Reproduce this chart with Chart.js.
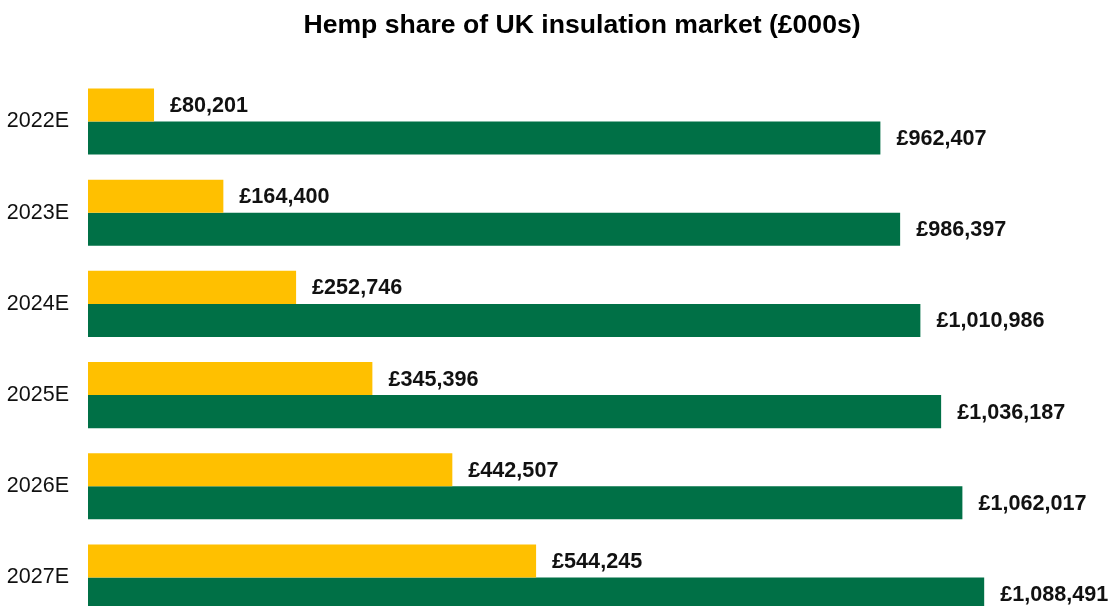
<!DOCTYPE html>
<html>
<head>
<meta charset="utf-8">
<script src="https://cdn.jsdelivr.net/npm/chart.js@4/dist/chart.umd.min.js"></script>
<style>
  html, body { margin: 0; padding: 0; background: #fff; overflow: hidden; }
  canvas { display: block; }
</style>
</head>
<body>
<canvas id="c" width="1112" height="655" style="width:1112px;height:655px;"></canvas>
<script>
const categories = ['2022E', '2023E', '2024E', '2025E', '2026E', '2027E'];
const hempValues = [80201, 164400, 252746, 345396, 442507, 544245];
const marketValues = [962407, 986397, 1010986, 1036187, 1062017, 1088491];
const titleText = 'Hemp share of UK insulation market (£000s)';

const FONT = '"Liberation Sans", Arial, Helvetica, sans-serif';

const valueLabels = {
  id: 'valueLabels',
  afterDatasetsDraw(chart) {
    const ctx = chart.ctx;
    ctx.save();
    ctx.font = 'bold 21.6px ' + FONT;
    ctx.fillStyle = '#111';
    ctx.textAlign = 'left';
    ctx.textBaseline = 'middle';
    chart.data.datasets.forEach((ds, di) => {
      const meta = chart.getDatasetMeta(di);
      meta.data.forEach((bar, i) => {
        const v = ds.data[i];
        ctx.fillText('£' + v.toLocaleString('en-GB'), bar.x + 16, bar.y + 1);
      });
    });
    ctx.restore();
  }
};

new Chart(document.getElementById('c'), {
  type: 'bar',
  data: {
    labels: categories,
    datasets: [
      { label: 'Hemp', data: hempValues, backgroundColor: '#FFC000', borderWidth: 0,
        categoryPercentage: 0.725, barPercentage: 1.0 },
      { label: 'Market', data: marketValues, backgroundColor: '#007046', borderWidth: 0,
        categoryPercentage: 0.725, barPercentage: 1.0 }
    ]
  },
  options: {
    indexAxis: 'y',
    responsive: false,
    maintainAspectRatio: false,
    devicePixelRatio: 1,
    animation: false,
    layout: { padding: { left: 0, right: 36, top: 0, bottom: 0 } },
    plugins: {
      legend: { display: false },
      tooltip: { enabled: false },
      title: {
        display: true,
        text: titleText,
        fullSize: false,
        color: '#000',
        font: { family: FONT, size: 26.6, weight: 'bold' },
        padding: { top: 10, bottom: 34 }
      }
    },
    scales: {
      x: {
        display: false,
        min: 0,
        max: 1200000
      },
      y: {
        grid: { display: false, drawTicks: false },
        border: { display: false },
        ticks: {
          color: '#111',
          font: { family: FONT, size: 21.5 },
          padding: 19
        },
        afterFit(axis) { axis.width = 88; }
      }
    }
  },
  plugins: [valueLabels]
});
</script>
</body>
</html>
